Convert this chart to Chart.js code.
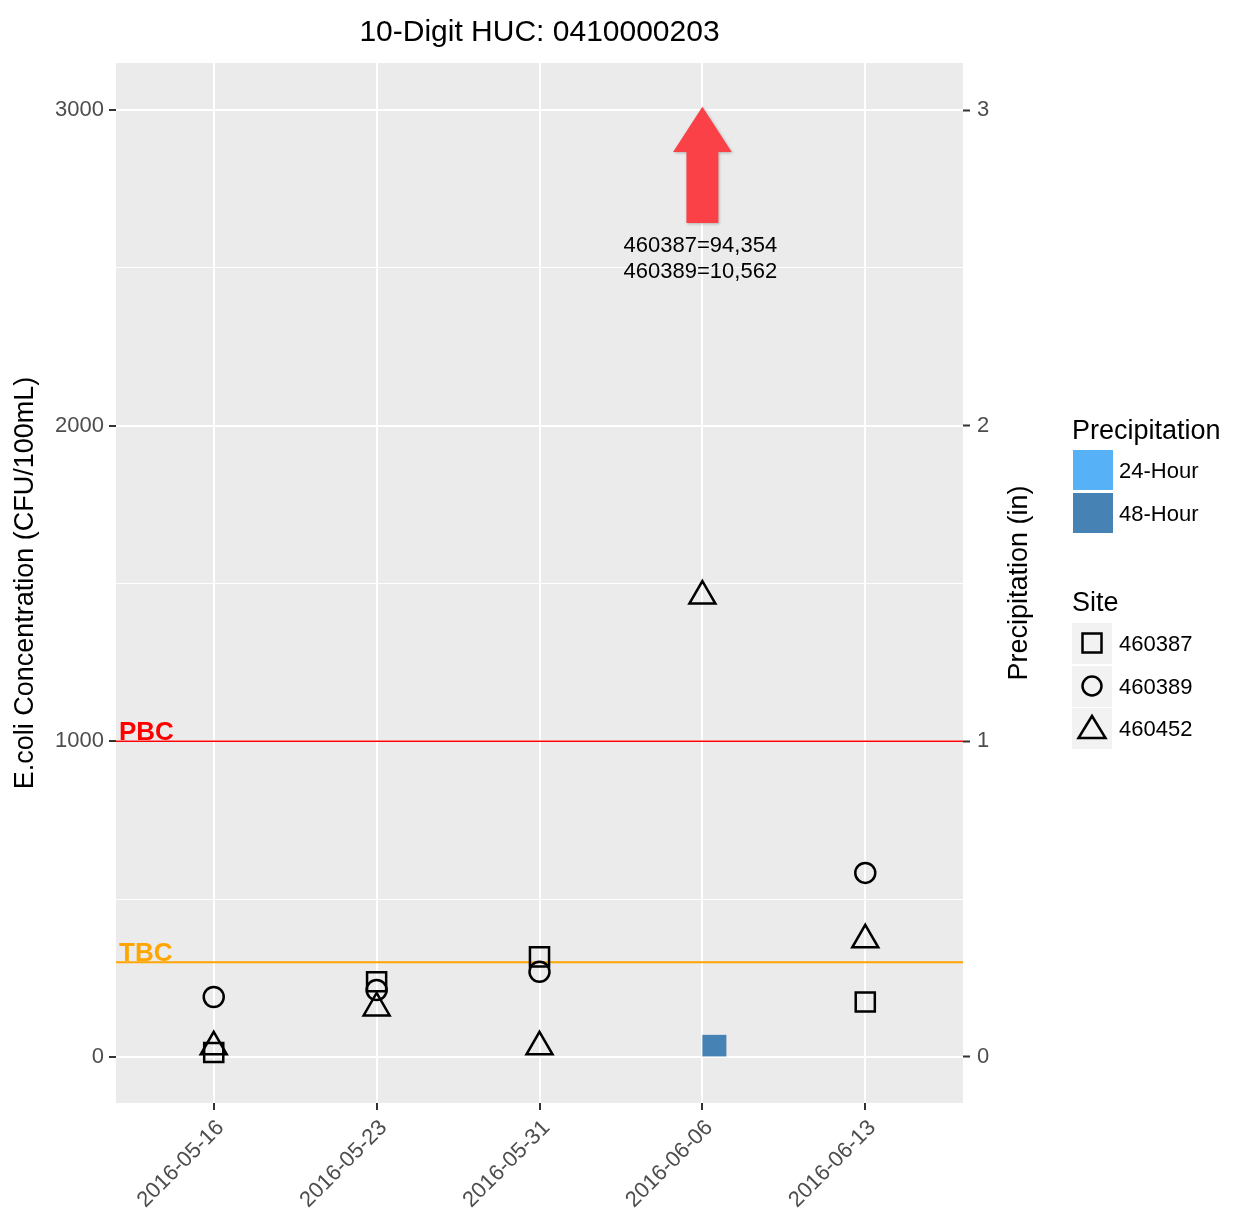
<!DOCTYPE html>
<html>
<head>
<meta charset="utf-8">
<title>10-Digit HUC: 0410000203</title>
<script src="https://cdn.jsdelivr.net/npm/chart.js@4.4.1/dist/chart.umd.min.js"></script>
<style>
  body { margin: 0; background: #fff; font-family: 'Liberation Sans', Arial, sans-serif; }
  #wrap { position: relative; width: 1235px; height: 1215px; }
  #chart { position: absolute; left: 0; top: 0; }
  .lg { position: absolute; white-space: nowrap; color: #000; }
  .lg-title { font-size: 27px; line-height: 27px; }
  .lg-label { font-size: 22px; line-height: 22px; }
  .lg-key { position: absolute; width: 40px; background: #f2f2f2; }
  .lg-key svg { display: block; }
</style>
</head>
<body>
<div id="wrap">
  <canvas id="chart" width="1235" height="1215"></canvas>
  <div id="legend"></div>
</div>
<script>
const dates = ['2016-05-16', '2016-05-23', '2016-05-31', '2016-06-06', '2016-06-13'];

// E. coli, CFU/100mL (null = above the plotted range)
const site460387 = [14, 238, 317, null, 174];
const site460389 = [190, 212, 270, null, 583];
const site460452 = [32, 155, 32, 1460, 371];

// precipitation, inches
const precip24 = [0, 0, 0, 0, 0];
const precip48 = [0, 0, 0, 0.07, 0];

const ecoliTicks = [0, 1000, 2000, 3000];
const ecoliMinorTicks = [500, 1500, 2500];
const precipTicks = [0, 1, 2, 3];

const PBC = 1000;
const TBC = 300;

// samples too high to plot on 2016-06-06
const offScaleDate = 3;
const offScaleSites = ['460387', '460389'];
const offScaleValues = [94354, 10562];

const FONT = "'Liberation Sans', Arial, sans-serif";
const GREY = '#4d4d4d';

const points = arr => arr.map((v, i) => ({ x: i, y: v }));
const isMinor = c => c.tick && ecoliMinorTicks.includes(c.tick.value);

const siteSets = [
  { label: '460387', data: site460387, style: 'rect', radius: 13.5 },
  { label: '460389', data: site460389, style: 'circle', radius: 10 },
  { label: '460452', data: site460452, style: 'triangle', radius: 15 }
];
const precipSets = [
  { label: '24-Hour', data: precip24, color: '#56b1f7' },
  { label: '48-Hour', data: precip48, color: '#4682b4' }
];

// grey panel behind the grid
const panelBg = {
  id: 'panelBg',
  beforeDraw(chart) {
    const { ctx, chartArea: a } = chart;
    ctx.save();
    ctx.fillStyle = '#ebebeb';
    ctx.fillRect(a.left, a.top, a.right - a.left, a.bottom - a.top);
    ctx.restore();
  }
};

// PBC / TBC criteria lines with their labels
const criteria = {
  id: 'criteria',
  beforeDatasetsDraw(chart) {
    const { ctx, chartArea: a, scales } = chart;
    const lines = [
      { name: 'PBC', value: PBC, color: '#ff0000', width: 1.6 },
      { name: 'TBC', value: TBC, color: '#ffa500', width: 2 }
    ];
    ctx.save();
    lines.forEach(l => {
      const y = scales.y.getPixelForValue(l.value);
      ctx.strokeStyle = l.color;
      ctx.lineWidth = l.width;
      ctx.beginPath();
      ctx.moveTo(a.left, y);
      ctx.lineTo(a.right, y);
      ctx.stroke();
      ctx.fillStyle = l.color;
      ctx.font = 'bold 26px ' + FONT;
      ctx.textAlign = 'left';
      ctx.textBaseline = 'alphabetic';
      ctx.fillText(l.name, a.left + 3, y - 1);
    });
    ctx.restore();
  }
};

// arrow + note for the off-scale samples
const offScaleNote = {
  id: 'offScaleNote',
  afterDatasetsDraw(chart) {
    const { ctx, scales } = chart;
    const xs = scales.x, ys = scales.y;
    const cx = xs.getPixelForValue(offScaleDate);
    const head = xs.getPixelForValue(offScaleDate + 0.18) - cx;
    const shaft = xs.getPixelForValue(offScaleDate + 0.098) - cx;
    const tip = ys.getPixelForValue(3010);
    const base = ys.getPixelForValue(2867);
    const tail = ys.getPixelForValue(2642);
    ctx.save();
    ctx.shadowColor = 'rgba(0,0,0,0.25)';
    ctx.shadowBlur = 3;
    ctx.shadowOffsetX = 1;
    ctx.shadowOffsetY = 1;
    ctx.fillStyle = '#fa4147';
    ctx.beginPath();
    ctx.moveTo(cx, tip);
    ctx.lineTo(cx + head, base);
    ctx.lineTo(cx + shaft, base);
    ctx.lineTo(cx + shaft, tail);
    ctx.lineTo(cx - shaft, tail);
    ctx.lineTo(cx - shaft, base);
    ctx.lineTo(cx - head, base);
    ctx.closePath();
    ctx.fill();
    ctx.restore();

    ctx.save();
    ctx.fillStyle = '#000';
    ctx.font = '22px ' + FONT;
    ctx.textAlign = 'center';
    ctx.textBaseline = 'middle';
    const top = ys.getPixelForValue(2570);
    offScaleSites.forEach((s, i) => {
      ctx.fillText(s + '=' + offScaleValues[i].toLocaleString('en-US'), cx - 2, top + i * 26);
    });
    ctx.restore();
  }
};

// plot title and the right-hand axis title
const titles = {
  id: 'titles',
  afterDraw(chart) {
    const { ctx, chartArea: a } = chart;
    ctx.save();
    ctx.fillStyle = '#000';
    ctx.font = '30px ' + FONT;
    ctx.textAlign = 'center';
    ctx.textBaseline = 'alphabetic';
    ctx.fillText('10-Digit HUC: 0410000203', (a.left + a.right) / 2, 41);

    ctx.font = '27px ' + FONT;
    ctx.textBaseline = 'middle';
    ctx.translate(a.right + 57, (a.top + a.bottom) / 2);
    ctx.rotate(-Math.PI / 2);
    ctx.fillText('Precipitation (in)', 0, 0);
    ctx.restore();
  }
};

const datasets = siteSets.map(s => ({
  type: 'scatter',
  label: s.label,
  data: points(s.data),
  pointStyle: s.style,
  pointRadius: s.radius,
  borderColor: '#000',
  backgroundColor: 'rgba(0,0,0,0)',
  borderWidth: 2.5,
  yAxisID: 'y'
})).concat(precipSets.map(p => ({
  type: 'bar',
  label: p.label,
  data: points(p.data),
  backgroundColor: p.color,
  barThickness: 24,
  inflateAmount: 0,
  borderWidth: 0,
  yAxisID: 'y2'
})));

new Chart(document.getElementById('chart'), {
  type: 'scatter',
  data: { datasets },
  options: {
    responsive: false,
    animation: false,
    events: [],
    layout: { padding: { top: 63, right: 195, bottom: 0, left: 0 } },
    plugins: { legend: { display: false }, tooltip: { enabled: false } },
    scales: {
      x: {
        type: 'linear',
        min: -0.6,
        max: 4.6,
        offset: false,
        afterBuildTicks: s => { s.ticks = dates.map((d, i) => ({ value: i })); },
        afterFit: s => { s.height = 112; },
        grid: { offset: false, color: '#fff', lineWidth: 2, tickLength: 7, tickColor: '#333', tickWidth: 2 },
        border: { display: false },
        ticks: {
          autoSkip: false, maxRotation: 45, minRotation: 45, padding: 5, labelOffset: 7,
          color: GREY, font: { family: FONT, size: 22 },
          callback: v => dates[v]
        }
      },
      y: {
        type: 'linear',
        position: 'left',
        min: -146,
        max: 3149,
        afterBuildTicks: s => {
          s.ticks = ecoliTicks.concat(ecoliMinorTicks).sort((a, b) => a - b).map(v => ({ value: v }));
        },
        afterFit: s => { s.width = 116; },
        grid: {
          color: '#fff',
          lineWidth: c => isMinor(c) ? 1 : 2,
          tickLength: 7,
          tickColor: c => isMinor(c) ? 'rgba(0,0,0,0)' : '#333',
          tickWidth: 2
        },
        border: { display: false },
        ticks: {
          padding: 5, color: GREY, font: { family: FONT, size: 22 },
          callback: v => ecoliTicks.includes(v) ? String(v) : ''
        },
        title: {
          display: true,
          text: 'E.coli Concentration (CFU/100mL)',
          color: '#000',
          font: { family: FONT, size: 27 },
          padding: { top: 9, bottom: 0 }
        }
      },
      y2: {
        type: 'linear',
        position: 'right',
        min: -0.146,
        max: 3.149,
        afterBuildTicks: s => { s.ticks = precipTicks.map(v => ({ value: v })); },
        afterFit: s => { s.width = 77; },
        grid: { drawOnChartArea: false, tickLength: 7, tickColor: '#333', tickWidth: 2 },
        border: { display: false },
        ticks: { padding: 7, color: GREY, font: { family: FONT, size: 22 } }
      }
    }
  },
  plugins: [panelBg, criteria, offScaleNote, titles]
});

// legend at the right: fill colours first, then site symbols
function buildLegend() {
  const box = document.getElementById('legend');
  const add = (cls, text, left, top) => {
    const d = document.createElement('div');
    d.className = 'lg ' + cls;
    d.textContent = text;
    d.style.left = left + 'px';
    d.style.top = top + 'px';
    box.appendChild(d);
  };
  add('lg-title', 'Precipitation', 1072, 417);
  precipSets.forEach((p, i) => {
    const sw = document.createElement('div');
    sw.className = 'lg-key';
    sw.style.cssText = `left:1073px;top:${450 + i * 43}px;height:40px;background:${p.color}`;
    box.appendChild(sw);
    add('lg-label', p.label, 1119, 460 + i * 43);
  });

  const shapes = {
    rect: '<rect x="10.5" y="10.5" width="19" height="19" fill="none" stroke="#000" stroke-width="2.5"/>',
    circle: '<circle cx="20" cy="20" r="9.5" fill="none" stroke="#000" stroke-width="2.5"/>',
    triangle: '<polygon points="20,8 33.5,30 6.5,30" fill="none" stroke="#000" stroke-width="2.5"/>'
  };
  add('lg-title', 'Site', 1072, 589);
  siteSets.forEach((s, i) => {
    const k = document.createElement('div');
    k.className = 'lg-key';
    k.style.cssText = `left:1072px;top:${623 + i * 42.5}px;height:41px`;
    k.innerHTML = `<svg width="40" height="41" viewBox="0 0 40 41">${shapes[s.style]}</svg>`;
    box.appendChild(k);
    add('lg-label', s.label, 1119, 633 + i * 42.5);
  });
}
buildLegend();
</script>
</body>
</html>
